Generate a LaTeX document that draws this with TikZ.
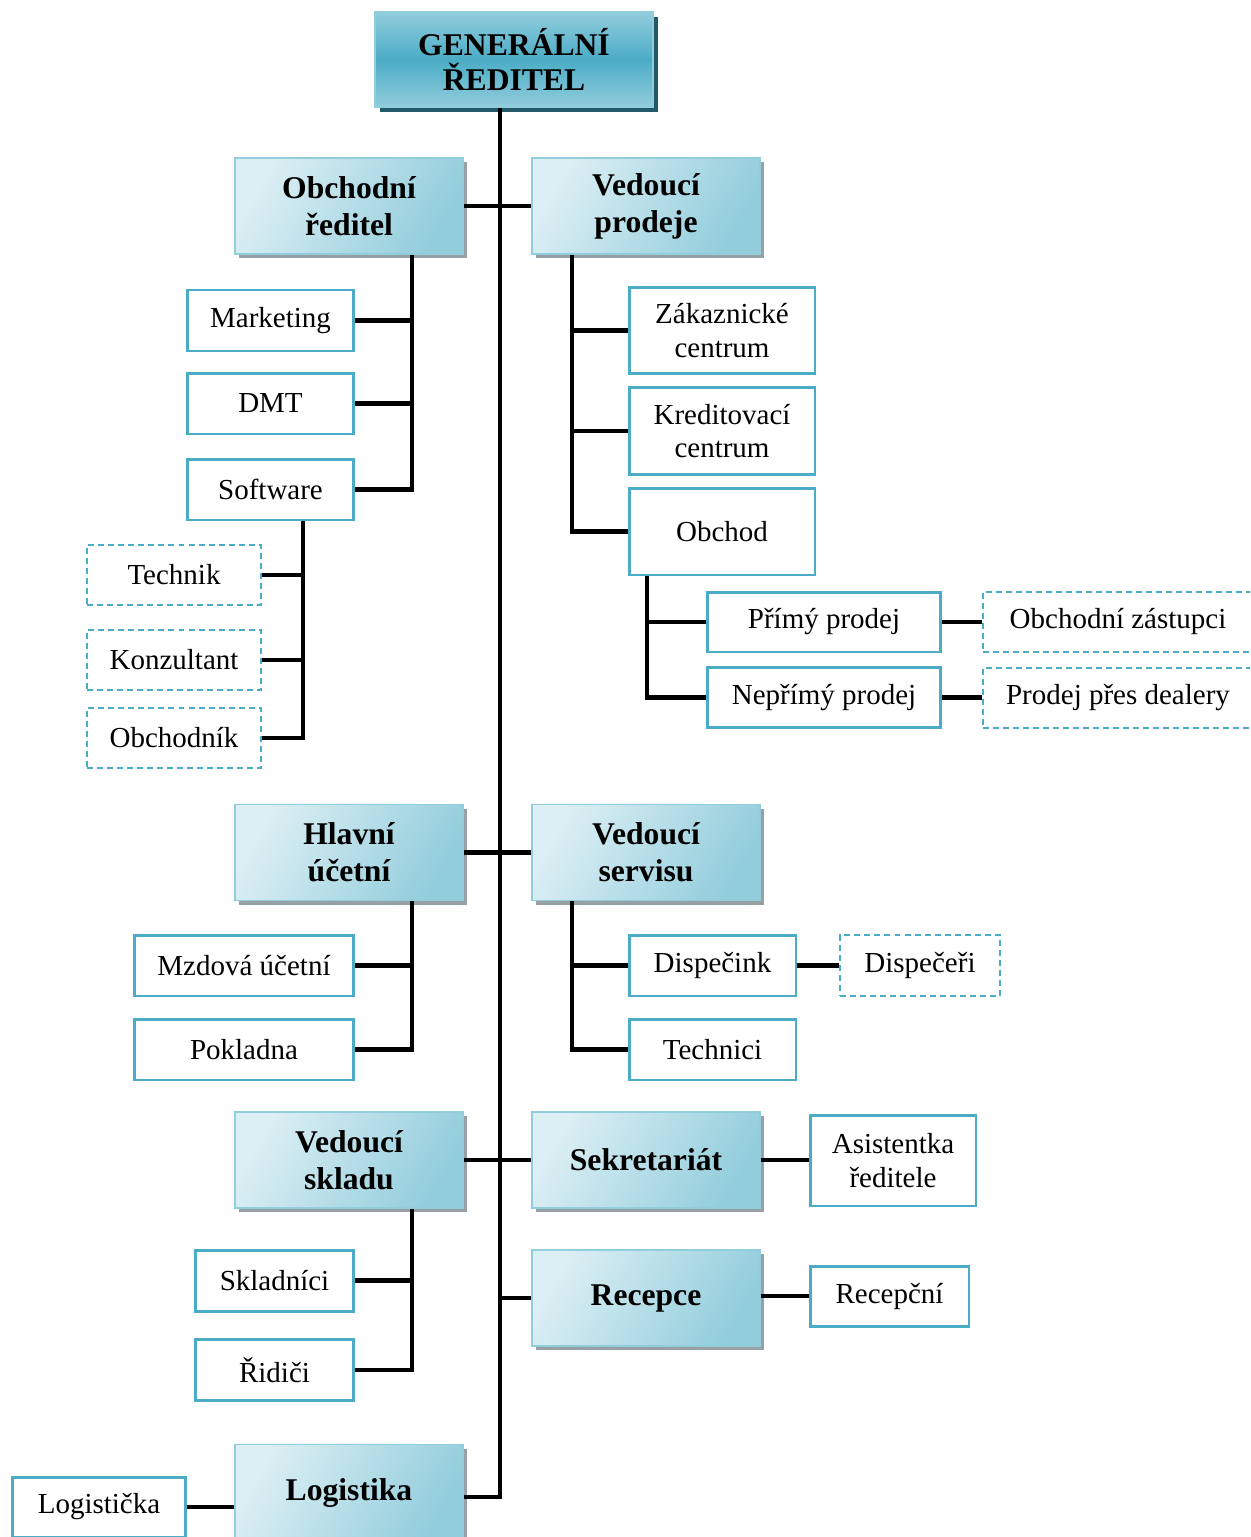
\documentclass[tikz,border=0pt]{standalone}
\usepackage{fontspec}
\setmainfont{Liberation Serif}
\usetikzlibrary{shadows}
\definecolor{bordeblue}{RGB}{75,172,198}
\definecolor{lightblue}{RGB}{220,239,244}
\definecolor{midblue}{RGB}{146,205,220}
\definecolor{shadowgrey}{RGB}{150,160,165}
\definecolor{darkteal}{RGB}{33,89,104}

\begin{document}
\begin{tikzpicture}[x=0.02cm, y=-0.02cm, semithick,
            conn/.style ={line width=2.3pt, black},
            boss/.style ={rectangle, draw=midblue, line width=1pt, top color=midblue, bottom color=midblue,
                middle color=bordeblue, general shadow={fill=darkteal, shadow xshift=2.6pt, shadow yshift=-2.6pt},
                minimum width=5.56cm, minimum height=1.9cm, align=center, inner sep=0pt,
                font=\fontsize{18}{20}\selectfont\bfseries},
            head/.style ={rectangle, draw=midblue, line width=0.8pt, left color=lightblue, right color=midblue,
                shading angle=60, general shadow={fill=shadowgrey, shadow xshift=2.3pt, shadow yshift=-2.3pt},
                minimum width=4.56cm, minimum height=1.92cm, align=center, inner sep=0pt,
                font=\fontsize{18}{21}\selectfont\bfseries},
            unit/.style ={rectangle, draw=bordeblue, line width=1.7pt, fill=white, minimum height=1.22cm,
                align=center, inner sep=0pt, font=\fontsize{16.5}{19}\selectfont},
            post/.style ={unit, line width=1.1pt, dash pattern=on 3.4pt off 2.3pt}]

        \useasboundingbox (0,0) rectangle (1250,1537);
        \clip (0,0) rectangle (1250,1537);

        %\node [estilo] (nombre) at (centro en px) {texto};
        \node[boss] (gr) at (514, 59.5) {GENERÁLNÍ\\ŘEDITEL};

        \node[head] (obr) at (349, 206) {Obchodní\\ředitel};
        \node[head] (vp)  at (646, 206) {Vedoucí\\prodeje};
        \node[unit, minimum width=3.34cm] (mk)  at (270.5, 320.5) {Marketing};
        \node[unit, minimum width=3.34cm] (dmt) at (270.5, 403.5) {DMT};
        \node[unit, minimum width=3.34cm] (sw)  at (270.5, 489.5) {Software};
        \node[post, minimum width=3.48cm, minimum height=1.2cm] (tech) at (174, 575) {Technik};
        \node[post, minimum width=3.48cm, minimum height=1.2cm] (konz) at (174, 660) {Konzultant};
        \node[post, minimum width=3.48cm, minimum height=1.2cm] (obn)  at (174, 738) {Obchodník};
        \node[unit, minimum width=3.72cm, minimum height=1.74cm] (zc) at (722, 330.5) {Zákaznické\\centrum};
        \node[unit, minimum width=3.72cm, minimum height=1.74cm] (kc) at (722, 431) {Kreditovací\\centrum};
        \node[unit, minimum width=3.72cm, minimum height=1.74cm] (ob) at (722, 531.5) {Obchod};
        \node[unit, minimum width=4.68cm, minimum height=1.2cm] (pp) at (824, 622) {Přímý prodej};
        \node[unit, minimum width=4.68cm, minimum height=1.2cm] (np) at (824, 697.5) {Nepřímý prodej};
        \node[post, minimum width=5.4cm, minimum height=1.2cm] (oz) at (1118, 622) {Obchodní zástupci};
        \node[post, minimum width=5.4cm, minimum height=1.2cm] (pd) at (1118, 698) {Prodej přes dealery};

        \node[head] (hu) at (349, 852.5) {Hlavní\\účetní};
        \node[head] (vs) at (646, 852.5) {Vedoucí\\servisu};
        \node[unit, minimum width=4.4cm] (mu) at (244, 965.5) {Mzdová účetní};
        \node[unit, minimum width=4.4cm] (pk) at (244, 1049.5) {Pokladna};
        \node[unit, minimum width=3.34cm] (disp)  at (712.5, 965.5) {Dispečink};
        \node[post, minimum width=3.2cm]  (dispr) at (920, 965.5) {Dispečeři};
        \node[unit, minimum width=3.34cm] (techn) at (712.5, 1049.5) {Technici};

        \node[head] (vsk) at (349, 1160) {Vedoucí\\skladu};
        \node[head] (sek) at (646, 1160) {Sekretariát};
        \node[unit, minimum width=3.32cm, minimum height=1.82cm] (as) at (893, 1160.5) {Asistentka\\ředitele};
        \node[unit, minimum width=3.18cm] (skl) at (274.5, 1280.5) {Skladníci};
        \node[unit, minimum width=3.18cm] (rid) at (274.5, 1370) {Řidiči};
        \node[head] (rec) at (646, 1298) {Recepce};
        \node[unit, minimum width=3.18cm, minimum height=1.2cm] (recp) at (889.5, 1296) {Recepční};

        \node[head] (log)  at (349, 1492.5) {Logistika};
        \node[unit, minimum width=3.48cm, minimum height=1.2cm] (logc) at (99, 1507) {Logistička};

        % kmen
        \coordinate (tb) at (500, 1497);
        \draw[conn] (gr.south -| tb) -- (tb) -- (tb -| log.east);
        \draw[conn] (obr.east) -- (vp.west);
        \draw[conn] (hu.east) -- (vs.west);
        \draw[conn] (vsk.east) -- (sek.west);
        \draw[conn] (rec.west -| tb) -- (rec.west);
        \draw[conn] (logc.east) -- (logc.east -| log.west);

        % obchodni reditel
        \coordinate (ba) at ([xshift=1.26cm]obr.south);
        \draw[conn] (ba) |- (sw.east);
        \draw[conn] (mk.east) -- (mk.east -| ba);
        \draw[conn] (dmt.east) -- (dmt.east -| ba);
        \coordinate (bb) at ([xshift=0.65cm]sw.south);
        \draw[conn] (bb) |- (obn.east);
        \draw[conn] (tech.east) -- (tech.east -| bb);
        \draw[conn] (konz.east) -- (konz.east -| bb);

        % vedouci prodeje
        \coordinate (bc) at ([xshift=-1.48cm]vp.south);
        \draw[conn] (bc) |- (ob.west);
        \draw[conn] (zc.west) -- (zc.west -| bc);
        \draw[conn] (kc.west) -- (kc.west -| bc);
        \coordinate (bd) at ([xshift=-1.5cm]ob.south);
        \draw[conn] (bd) |- (np.west);
        \draw[conn] (pp.west) -- (pp.west -| bd);
        \draw[conn] (pp.east) -- (oz.west |- pp.east);
        \draw[conn] (np.east) -- (pd.west |- np.east);

        % hlavni ucetni, servis
        \coordinate (be) at ([xshift=1.26cm]hu.south);
        \draw[conn] (be) |- (pk.east);
        \draw[conn] (mu.east) -- (mu.east -| be);
        \coordinate (bf) at ([xshift=-1.48cm]vs.south);
        \draw[conn] (bf) |- (techn.west);
        \draw[conn] (disp.west) -- (disp.west -| bf);
        \draw[conn] (disp.east) -- (dispr.west);

        % sklad, sekretariat, recepce
        \coordinate (bg) at ([xshift=1.26cm]vsk.south);
        \draw[conn] (bg) |- (rid.east);
        \draw[conn] (skl.east) -- (skl.east -| bg);
        \draw[conn] (sek.east) -- (sek.east -| as.west);
        \draw[conn] (recp.west -| rec.east) -- (recp.west);
    \end{tikzpicture}
\end{document}
